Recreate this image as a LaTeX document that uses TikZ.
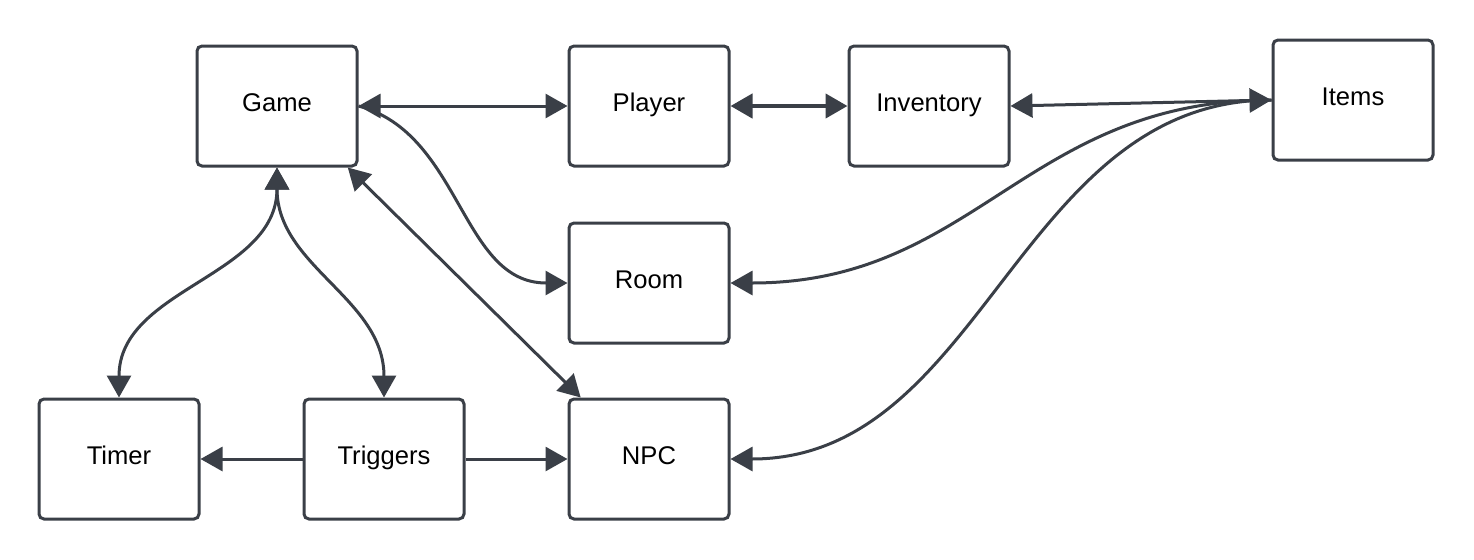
\documentclass[tikz,border=0pt]{standalone}
\usepackage{fontspec}
\setmainfont{Liberation Sans}
\usetikzlibrary{arrows.meta}
\definecolor{ink}{HTML}{3A3F47}
\tikzset{>={Triangle[length=11pt,width=12pt]}}
\tikzset{box/.style={draw=ink,line width=1.5pt,rounded corners=2.5pt,minimum width=80pt,minimum height=60pt,inner sep=0pt,text height=9pt,text depth=3.5pt,font=\fontsize{12.8}{15}\selectfont}}
\tikzset{link/.style={draw=ink,line width=1.5pt}}

\begin{document}
\begin{tikzpicture}[x=0.5pt,y=-0.5pt]
\useasboundingbox (0,0) rectangle (1474,559);
\node[box] (game) at (277,106) {Game};
\node[box] (player) at (649,106) {Player};
\node[box] (inventory) at (929,106) {Inventory};
\node[box] (items) at (1353,100) {Items};
\node[box] (room) at (649,283) {Room};
\node[box] (timer) at (119,459) {Timer};
\node[box] (triggers) at (384,459) {Triggers};
\node[box] (npc) at (649,459) {NPC};
\draw[link,<->] (game.east) -- (player.west);
\draw[link,<->,line width=2.2pt] (player.east) -- (inventory.west);
\draw[link,<->] (inventory.east) -- (items.west);
\draw[link,->] (items.west) to[out=180,in=0,looseness=1.1] (room.east);
\draw[link,->] (items.west) to[out=180,in=0] (npc.east);
\draw[link,->] (game.east) to[out=-15,in=180] (room.west);
\draw[link,<->] (game.-41) -- (npc.138);
\draw[link,<->] (game.south) to[out=-90,in=90] (timer.north);
\draw[link,<->] (game.south) to[out=-90,in=90] (triggers.north);
\draw[link,->] (triggers.west) -- (timer.east);
\draw[link,->] (triggers.east) -- (npc.west);
\end{tikzpicture}
\end{document}
